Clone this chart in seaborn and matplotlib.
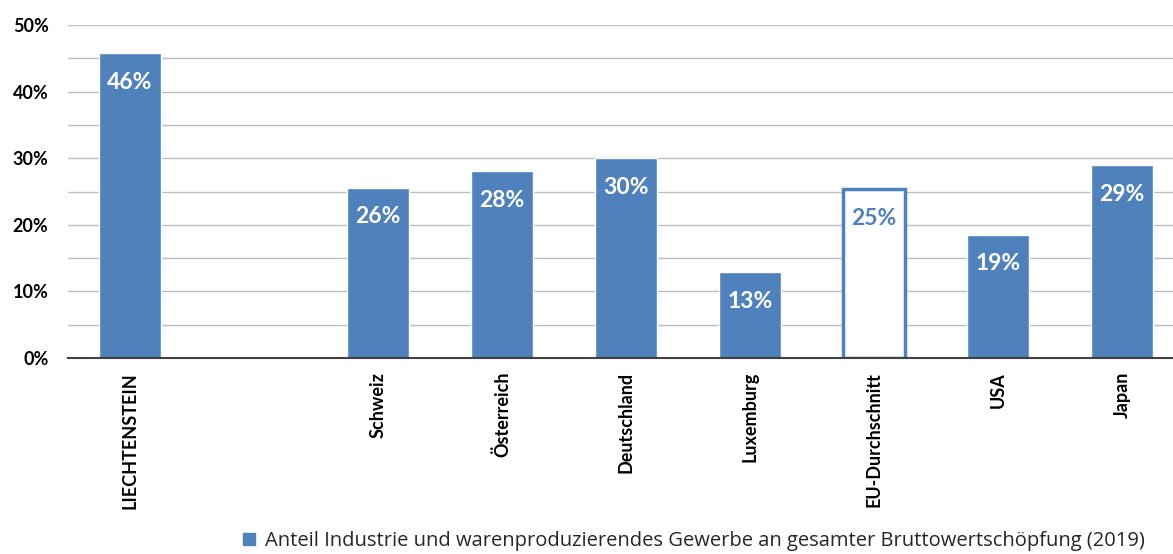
import matplotlib
matplotlib.use("Agg")
import matplotlib.pyplot as plt
import seaborn as sns
import numpy as np
import pandas as pd
from matplotlib.patches import Patch

categories = ["LIECHTENSTEIN", " ", "Schweiz", "Österreich", "Deutschland",
              "Luxemburg", "EU-Durchschnitt", "USA", "Japan"]
values = [45.8, np.nan, 25.6, 28.1, 30.0, 12.9, 25.4, 18.5, 29.0]
labels = ["46%", "", "26%", "28%", "30%", "13%", "25%", "19%", "29%"]
outline_category = "EU-Durchschnitt"
series_name = "Anteil Industrie und warenproduzierendes Gewerbe an gesamter Bruttowertschöpfung (2019)"
yticks = [0, 10, 20, 30, 40, 50]
ytick_labels = ["0%", "10%", "20%", "30%", "40%", "50%"]

BLUE = "#4F81BD"
sns.set_theme(style="white")
plt.rcParams["font.family"] = ["Lato", "DejaVu Sans"]

df = pd.DataFrame({"cat": categories, "val": values})

fig = plt.figure(figsize=(11.73, 5.54), dpi=100)
ax = fig.add_axes([68 / 1173, 1 - 358 / 554, (1184 - 68) / 1173, (358 - 25) / 554])

sns.barplot(data=df, x="cat", y="val", order=categories, color=BLUE,
            saturation=1, width=0.5, ax=ax, zorder=3)

# gridlines every 5%
for g in np.arange(5, 51, 5):
    ax.axhline(g, color="#BFBFBF", lw=1.0, zorder=1)

ax.set_ylim(0, 50)
ax.set_xlim(-0.5, len(categories) - 0.5)
ax.set_yticks(yticks)
ax.set_yticklabels(ytick_labels, fontsize=13, fontweight="bold", color="black")
ax.set_xticks(range(len(categories)))
ax.set_xticklabels(categories, rotation=90, fontsize=13, fontweight="bold", color="black")
ax.tick_params(axis="both", length=0)
ax.tick_params(axis="x", pad=10)
ax.tick_params(axis="y", pad=14)
ax.set_xlabel("")
ax.set_ylabel("")
for s in ["top", "right", "left"]:
    ax.spines[s].set_visible(False)
ax.spines["bottom"].set_color("#404040")
ax.spines["bottom"].set_linewidth(1.5)
ax.spines["bottom"].set_zorder(4)

# style bars & labels
bars = list(ax.patches)
valid = [c for c, v in zip(categories, values) if not np.isnan(v)]
for p, cat in zip(bars, valid):
    i = categories.index(cat)
    v = values[i]
    col = "white"
    if cat == outline_category:
        p.set_facecolor("white")
        p.set_edgecolor(BLUE)
        p.set_linewidth(2.5)
        col = BLUE
    ax.annotate(labels[i], (p.get_x() + p.get_width() / 2, v), xytext=(0, -21),
                textcoords="offset points", ha="center", va="center",
                fontsize=16.5, fontweight="bold", color=col, zorder=5)

handle = Patch(facecolor=BLUE, edgecolor=BLUE)
fig.legend([handle], [series_name], loc="center", bbox_to_anchor=(694 / 1173, 1 - 541 / 554),
           frameon=False, handlelength=0.6, handleheight=0.6, handletextpad=0.5,
           borderpad=0.2, prop={"family": ["Open Sans", "DejaVu Sans"], "size": 14.5})

fig.savefig("out.png", dpi=100)
